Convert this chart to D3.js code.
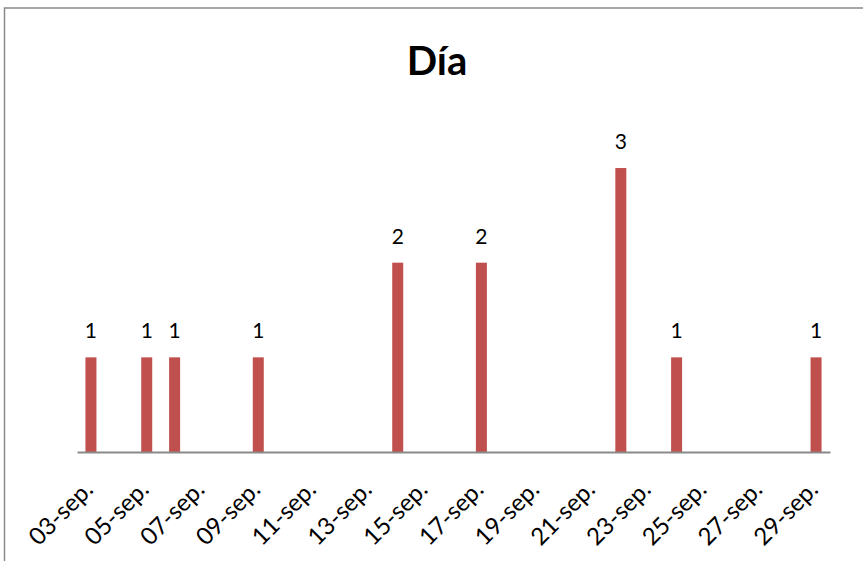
<!DOCTYPE html>
<html>
<head>
<meta charset="utf-8">
<script src="https://cdn.jsdelivr.net/npm/d3@7"></script>
<style>
  body { margin: 0; background: #fff; }
  svg text { font-family: Lato, "Open Sans", sans-serif; fill: #000; }
</style>
</head>
<body>
<div id="chart"></div>
<script>
// fechas con valor y conteo por día
let days = ["03-sep.", "05-sep.", "06-sep.", "09-sep.", "14-sep.", "17-sep.", "22-sep.", "24-sep.", "29-sep."];
let counts = [1, 1, 1, 1, 2, 2, 3, 1, 1];
let tickLabels = ["03-sep.", "05-sep.", "07-sep.", "09-sep.", "11-sep.", "13-sep.", "15-sep.",
                  "17-sep.", "19-sep.", "21-sep.", "23-sep.", "25-sep.", "27-sep.", "29-sep."];
let title = "Día";

let width = 863, height = 561;

// "03-sep." -> date in september
function toDate(label) {
    return new Date(2013, 8, +label.slice(0, 2));
}

let data = days.map((d, i) => ({ date: toDate(d), value: counts[i] }));

let svg = d3.select("#chart").append("svg")
    .attr("width", width)
    .attr("height", height);

// chart frame
svg.append("rect")
    .attr("x", 4.5)
    .attr("y", 8)
    .attr("width", 1000)
    .attr("height", 1000)
    .attr("fill", "none")
    .attr("stroke", "#8a8a8a")
    .attr("stroke-width", 1.5);

svg.append("text")
    .attr("x", 437)
    .attr("y", 75)
    .attr("text-anchor", "middle")
    .style("font-size", "40px")
    .style("font-weight", "bold")
    .text(title);

// half a day of padding on each side, like the date axis
let x = d3.scaleTime()
    .domain([new Date(2013, 8, 2, 12), new Date(2013, 8, 29, 12)])
    .range([77, 830]);

let y = d3.scaleLinear()
    .domain([0, 3.5])
    .range([452, 120.7]);

let barWidth = 11;

svg.selectAll("rect.bar")
    .data(data)
    .enter()
    .append("rect")
    .attr("class", "bar")
    .attr("x", d => x(d.date) - barWidth / 2)
    .attr("y", d => y(d.value))
    .attr("width", barWidth)
    .attr("height", d => y(0) - y(d.value))
    .attr("fill", "#C0504D");

// value labels
svg.selectAll("text.value")
    .data(data)
    .enter()
    .append("text")
    .attr("class", "value")
    .attr("x", d => x(d.date))
    .attr("y", d => y(d.value) - 19)
    .attr("text-anchor", "middle")
    .style("font-size", "21px")
    .text(d => d.value);

let x_axis = d3.axisBottom(x)
    .tickValues(tickLabels.map(toDate))
    .tickFormat((d, i) => tickLabels[i])
    .tickSize(0)
    .tickSizeOuter(0);

let gx = svg.append("g")
    .attr("transform", "translate(0,452)")
    .call(x_axis);

gx.select(".domain")
    .attr("stroke", "#898989")
    .attr("stroke-width", 2);

gx.selectAll("text")
    .attr("x", 0)
    .attr("y", 0)
    .attr("dy", null)
    .attr("text-anchor", "end")
    .attr("transform", "translate(3,39) rotate(-45)")
    .style("font-family", "Lato, 'Open Sans', sans-serif")
    .style("font-size", "24px")
    .attr("fill", "#000");
</script>
</body>
</html>
